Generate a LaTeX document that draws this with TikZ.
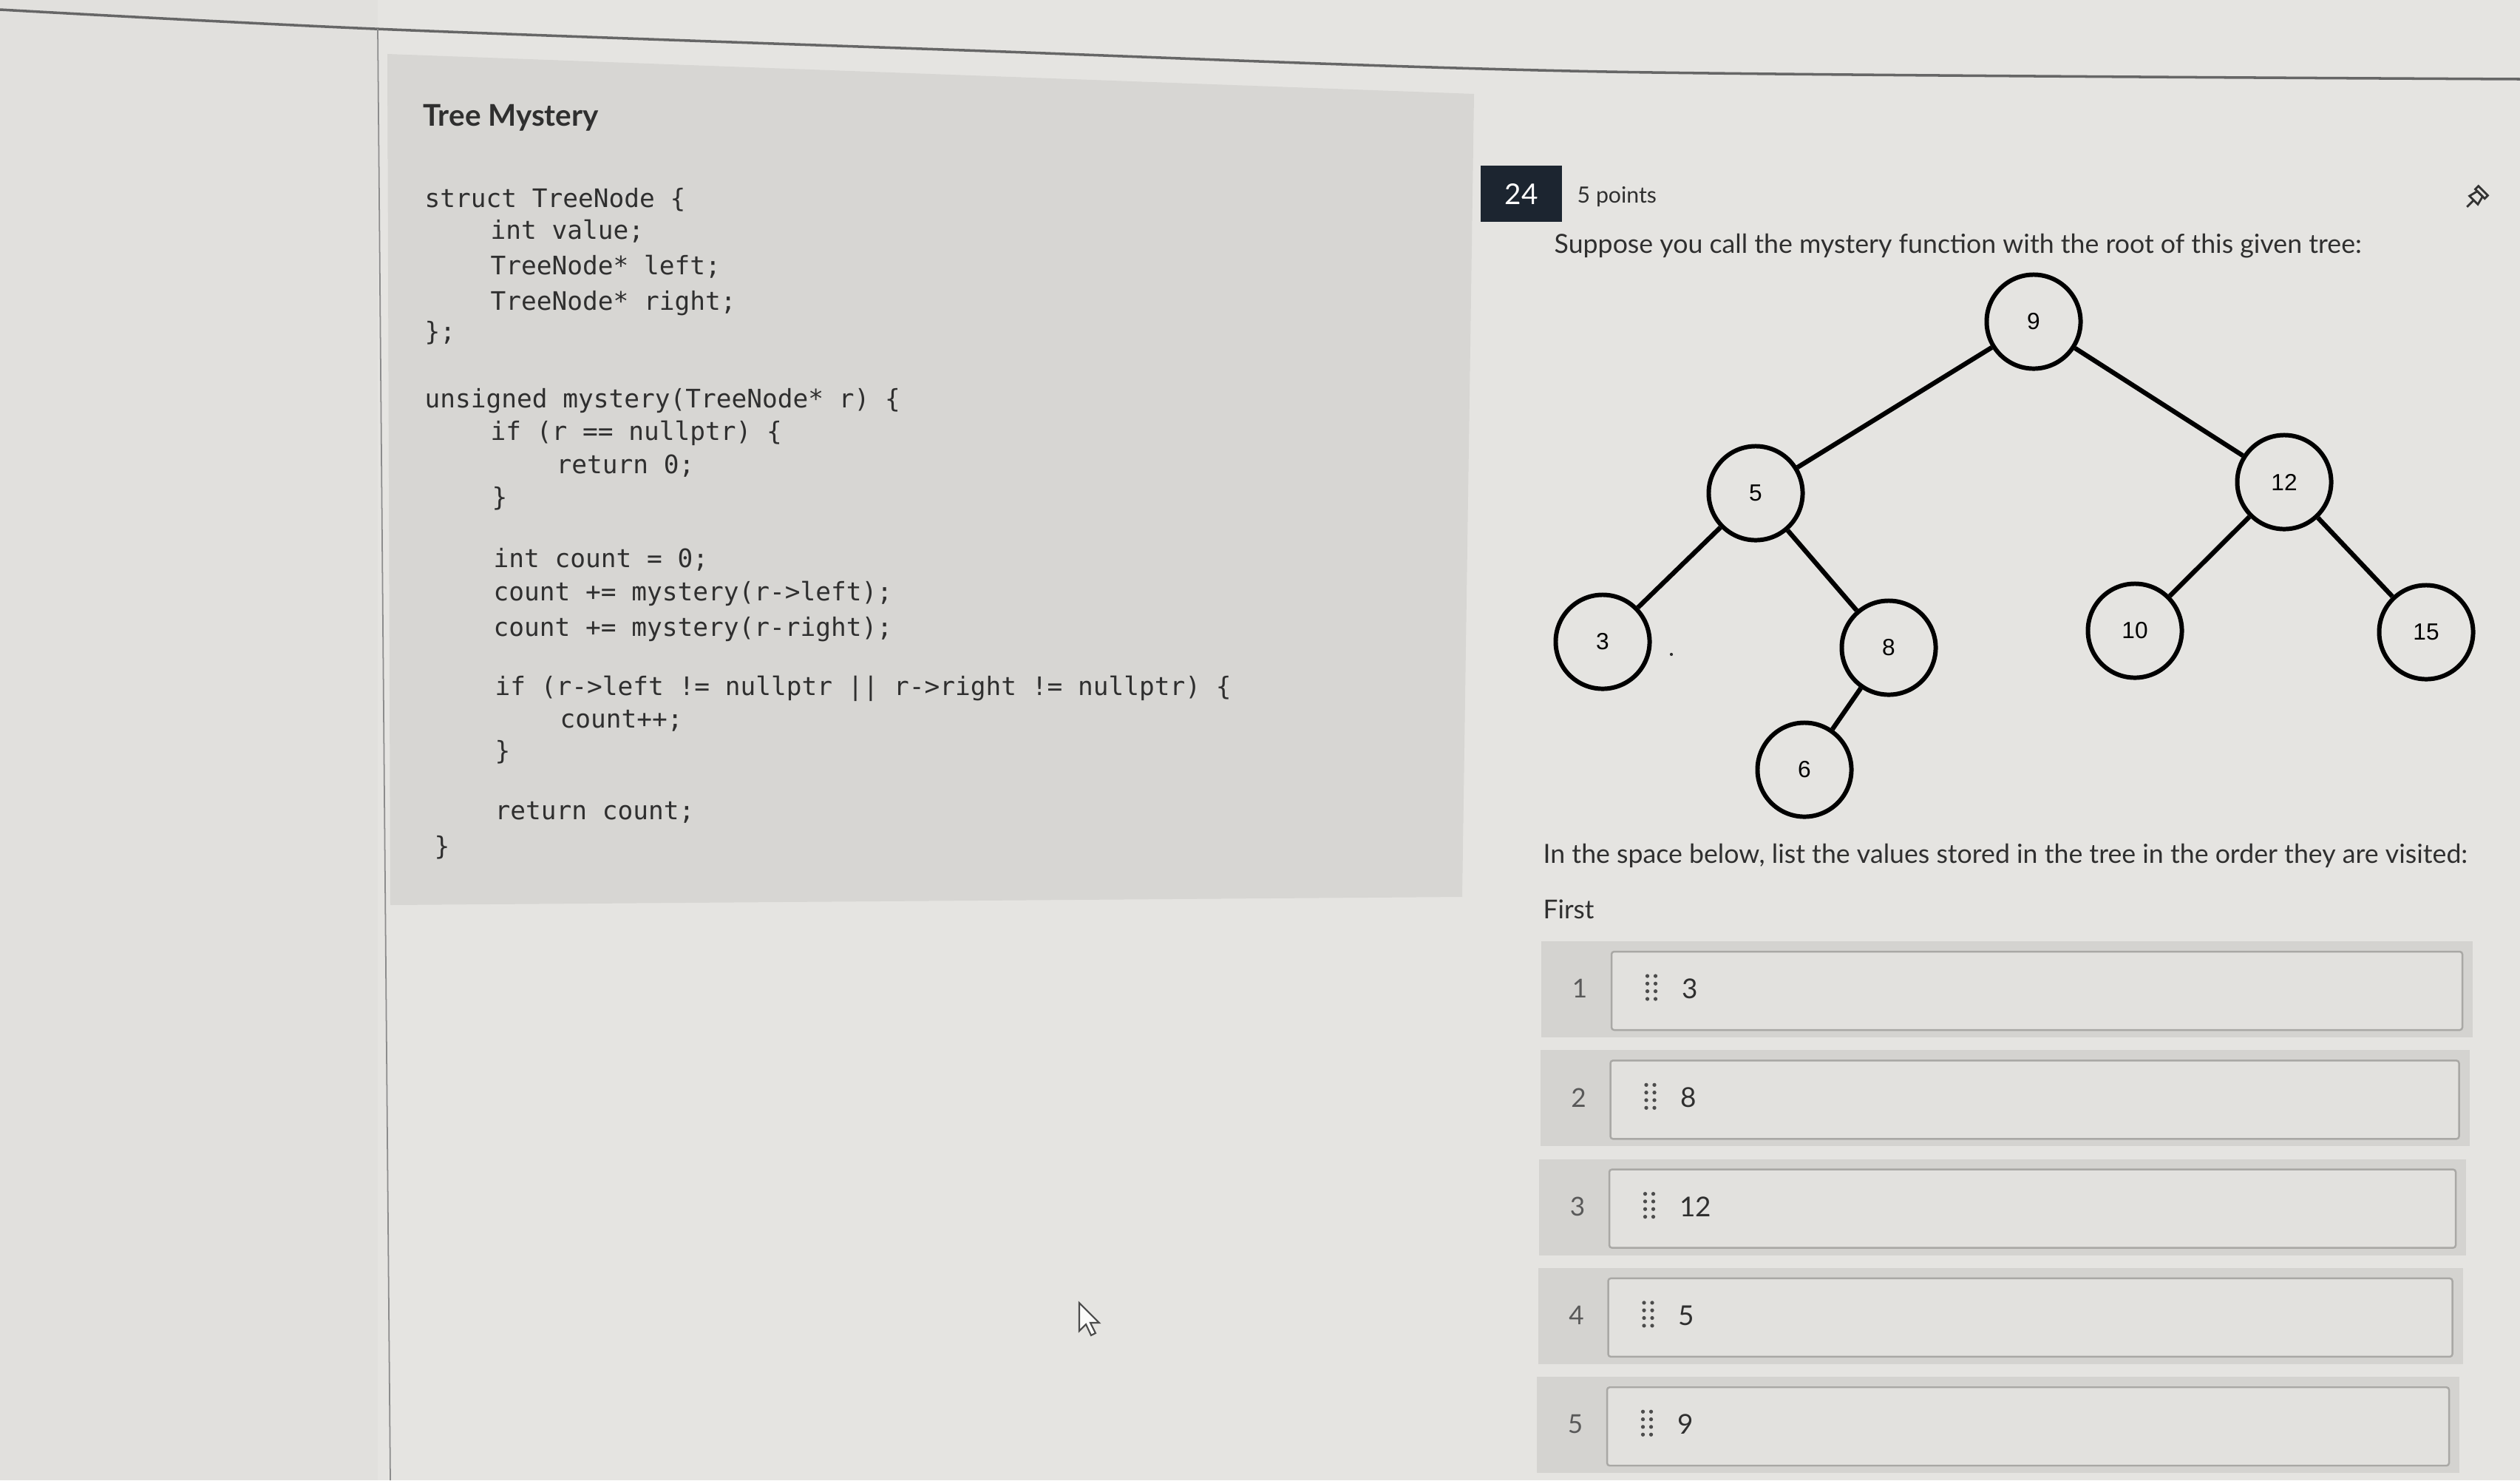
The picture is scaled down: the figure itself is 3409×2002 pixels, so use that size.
\documentclass[tikz,border=0pt]{standalone}
\usepackage{fontspec}
\setmainfont{Lato}
\setmonofont{DejaVu Sans Mono}
\newfontfamily\arialfont{Liberation Sans}
\usepackage{xcolor}
\usetikzlibrary{calc, positioning}

\definecolor{screen}{HTML}{E5E4E1}
\definecolor{sidebar}{HTML}{E1E0DD}
\definecolor{panel}{HTML}{D7D6D3}
\definecolor{band}{HTML}{D4D3D0}
\definecolor{boxfill}{HTML}{E2E1DE}
\definecolor{boxline}{HTML}{A9A8A5}
\definecolor{ink}{HTML}{2F2F2F}
\definecolor{navy}{HTML}{1C2530}

\tikzset{
    code/.style={font=\ttfamily\fontsize{9.8pt}{12pt}\selectfont, text=ink, inner sep=0pt, anchor=base west},
    ui/.style={font=\fontsize{10.15pt}{12pt}\selectfont, text=ink, inner sep=0pt, anchor=west},
    tnode/.style={circle, draw=black, line width=1.7pt, minimum size=1.27cm, inner sep=0pt,
        font=\arialfont\fontsize{9pt}{10pt}\selectfont},
    tedge/.style={line width=1.8pt, black},
}

\begin{document}
\begin{tikzpicture}[x=0.01cm, y=-0.01cm]
    % Khung ảnh và nền màn hình
    \useasboundingbox (0,0) rectangle (3409,2002);
    \clip (0,0) rectangle (3409,2002);
    \fill[screen] (0,0) rectangle (3409,2002);
    \fill[sidebar] (0,0) rectangle (511,2002);
    \draw[black!60, line width=1pt] plot[smooth] coordinates {(0,13) (507,39) (1305,68) (2174,97) (3409,107)};
    \draw[black!45, line width=0.5pt] (511,39) -- (528,2002);

    % Khung mã nguồn bên trái
    \fill[panel] (524,73) -- (1994,127) -- (1978,1213) -- (528,1224) -- cycle;
    \node[ui, font=\bfseries\fontsize{11.5pt}{13pt}\selectfont] (title) at (572,159) {Tree Mystery};
    \foreach \y/\x/\t [count=\n] in {
        270/574/struct TreeNode \{,
        313/663/int value;,
        361/663/TreeNode* left;,
        409/663/TreeNode* right;,
        450/574/\};,
        541/574/unsigned mystery(TreeNode* r) \{,
        585/663/if (r == nullptr) \{,
        630/752/return 0;,
        674/665/\},
        757/667/int count = 0;,
        802/667/count += mystery(r->left);,
        850/667/count += mystery(r-right);,
        930/669/if (r->left != nullptr || r->right != nullptr) \{,
        974/757/count++;,
        1017/669/\},
        1098/669/return count;,
        1146/587/\}}
        \node[code] (code-\n) at (\x,\y+10) {\t};

    % Con trỏ chuột
    \draw[black!70, line width=0.6pt, fill=white!85!screen]
        (1460,1762) -- (1460,1800) -- (1469,1791) -- (1476,1806) -- (1482,1803) -- (1475,1789) -- (1487,1789) -- cycle;

    % Tiêu đề câu hỏi
    \node[fill=navy, minimum width=1.1cm, minimum height=0.75cm, inner sep=0pt, text=white,
        font=\fontsize{11pt}{12pt}\selectfont] (qnum) at (2058,262) {24};
    \node[ui, font=\fontsize{8.6pt}{10pt}\selectfont] (points) at (2133,266) {5 points};
    \begin{scope}[shift={(3352,265)}, rotate=-45, line width=0.8pt, black!80]
        \draw (0,8) -- (0,21);
        \draw (-8,8) -- (8,8) -- (5,-4) -- (-5,-4) -- cycle;
        \draw (-9,-4) rectangle (9,-10);
    \end{scope}
    \node[ui] (prompt) at (2102,333) {Suppose you call the mystery function with the root of this given tree:};

    % Cây nhị phân
    \node[tnode] (n9)  at (2751,435)  {9};
    \node[tnode] (n5)  at (2375,667)  {5};
    \node[tnode] (n12) at (3090,652)  {12};
    \node[tnode] (n3)  at (2168,868)  {3};
    \node[tnode] (n8)  at (2555,876)  {8};
    \node[tnode] (n10) at (2888,853)  {10};
    \node[tnode] (n15) at (3282,855)  {15};
    \node[tnode] (n6)  at (2441,1041) {6};
    \draw[tedge] (n9) -- (n5);
    \draw[tedge] (n9) -- (n12);
    \draw[tedge] (n5) -- (n3);
    \draw[tedge] (n5) -- (n8);
    \draw[tedge] (n8) -- (n6);
    \draw[tedge] (n12) -- (n10);
    \draw[tedge] (n12) -- (n15);
    \fill[ink] (2261,885) circle (0.6pt);

    % Danh sách thứ tự duyệt
    \node[ui] (task) at (2087,1157) {In the space below, list the values stored in the tree in the order they are visited:};
    \node[ui, font=\fontsize{10pt}{11pt}\selectfont] (first) at (2087,1230) {First};
    \foreach \i/\v in {1/3, 2/8, 3/12, 4/5, 5/9}{
        \pgfmathsetmacro{\rowtop}{1273+(\i-1)*147.3}
        \pgfmathsetmacro{\rowleft}{2085-(\i-1)*1.5}
        \pgfmathsetmacro{\rowright}{3345-(\i-1)*4.5}
        \fill[band] (\rowleft,\rowtop) rectangle (\rowright,\rowtop+130);
        \draw[boxline, fill=boxfill, line width=0.7pt, rounded corners=1pt]
            (\rowleft+95,\rowtop+14) rectangle (\rowright-14,\rowtop+120);
        \node[ui, text=black!65, font=\fontsize{10pt}{11pt}\selectfont, anchor=center] (num-\i) at (\rowleft+52,\rowtop+64) {\i};
        \foreach \c in {0,11}
            \foreach \r in {0,10.3,20.6,31}
                \fill[black!70] (2230+\c-\i*1.5,\rowtop+47+\r) circle (0.75pt);
        \node[ui, font=\fontsize{10.5pt}{11pt}\selectfont] (val-\i) at (2276-\i*1.5,\rowtop+64) {\v};
    }
\end{tikzpicture}
\end{document}
